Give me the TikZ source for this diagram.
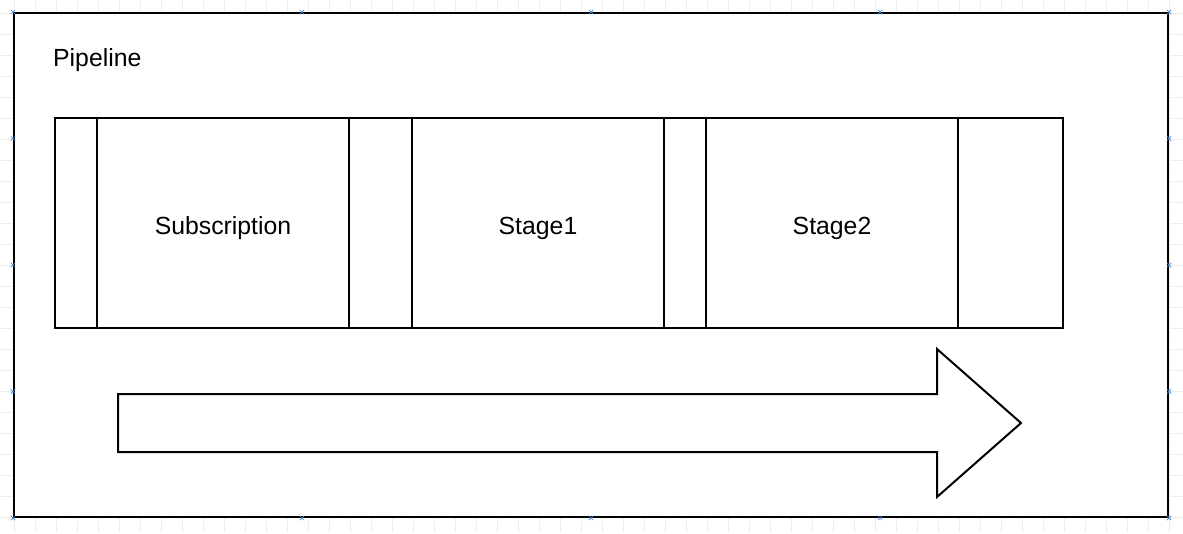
\documentclass[tikz,border=0pt]{standalone}
\usepackage{fontspec}
\setmainfont{Liberation Sans}
\usetikzlibrary{calc}
\begin{document}
\begin{tikzpicture}[x=1pt,y=-1pt,
  box/.style={draw=black,line width=2pt,fill=white,rectangle,inner sep=0pt,minimum height=210pt},
  lbl/.style={font=\fontsize{24.8}{30}\selectfont},
  stagelbl/.style={lbl,text height=27pt,text depth=5pt},
  gridline/.style={draw=black!7,line width=0.8pt},
  pin/.style={draw=cyan!50!blue!80,line width=0.7pt}]
\useasboundingbox (0,0) rectangle (1183,533);
% background grid
\foreach \k in {0,...,55} {\draw[gridline] (14+21*\k,0) -- (14+21*\k,533);}
\foreach \k in {0,...,25} {\draw[gridline] (0,13+21*\k) -- (1183,13+21*\k);}
% frame
\node[draw=black,line width=2pt,fill=white,rectangle,inner sep=0pt,minimum width=1154pt,minimum height=504pt] (frame) at (591,265) {};
\node[lbl,anchor=base west,inner sep=0pt] (title) at (53,66) {Pipeline};
% lane and stages
\node[box,minimum width=1008pt] (lane) at (559,223) {};
\node[box,minimum width=252pt,stagelbl] (sub) at (223,223) {Subscription};
\node[box,minimum width=252pt,stagelbl] (s1) at (538,223) {Stage1};
\node[box,minimum width=252pt,stagelbl] (s2) at (832,223) {Stage2};
% big arrow
\draw[line width=2pt,fill=white,line join=miter] (118,394) -- (937,394) -- (937,349) -- (1021,423) -- (937,497) -- (937,452) -- (118,452) -- cycle;
% connection marks on frame
\foreach \p in {(frame.north west),(frame.north east),(frame.south west),(frame.south east)} {
  \draw[pin] \p ++(-2.2,-2.2) -- ++(4.4,4.4) ++(-4.4,0) -- ++(4.4,-4.4);}
\foreach \t in {0.25,0.5,0.75} {
  \draw[pin] ($(frame.north west)!\t!(frame.north east)$) ++(-2.2,-2.2) -- ++(4.4,4.4) ++(-4.4,0) -- ++(4.4,-4.4);
  \draw[pin] ($(frame.south west)!\t!(frame.south east)$) ++(-2.2,-2.2) -- ++(4.4,4.4) ++(-4.4,0) -- ++(4.4,-4.4);
  \draw[pin] ($(frame.north west)!\t!(frame.south west)$) ++(-2.2,-2.2) -- ++(4.4,4.4) ++(-4.4,0) -- ++(4.4,-4.4);
  \draw[pin] ($(frame.north east)!\t!(frame.south east)$) ++(-2.2,-2.2) -- ++(4.4,4.4) ++(-4.4,0) -- ++(4.4,-4.4);
}
\end{tikzpicture}
\end{document}
